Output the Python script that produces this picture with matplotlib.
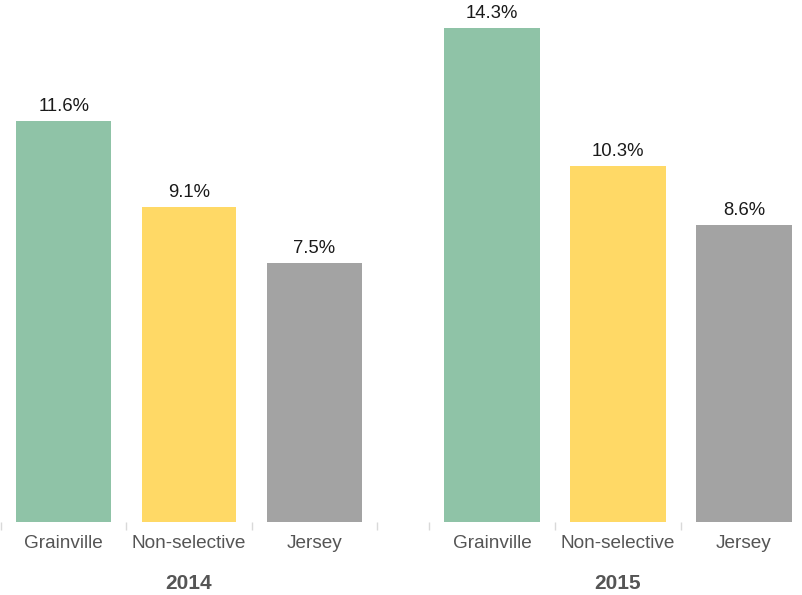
import matplotlib.pyplot as plt

plt.rcParams['font.family'] = ['Liberation Sans', 'DejaVu Sans']

categories = ['Grainville', 'Non-selective', 'Jersey']
years = ['2014', '2015']
values_2014 = [11.6, 9.1, 7.5]
values_2015 = [14.3, 10.3, 8.6]
colors = ['#8fc3a7', '#ffd966', '#a3a3a3']

W, H = 803, 595
fig = plt.figure(figsize=(W / 100, H / 100), dpi=100)

# panel boxes in pixels: left, right
panels = [(1, 377), (429, 807)]
bottom_px = 522

for (x0, x1), year, vals in zip(panels, years, [values_2014, values_2015]):
    ax = fig.add_axes([x0 / W, (H - bottom_px) / H, (x1 - x0) / W, bottom_px / H])
    xs = range(len(categories))
    bars = ax.bar(xs, vals, width=0.755, color=colors)
    for b, v in zip(bars, vals):
        ax.annotate(f'{v}%', (b.get_x() + b.get_width() / 2, v),
                    xytext=(0, 6), textcoords='offset pixels',
                    ha='center', va='bottom', fontsize=13.3, color='#1a1a1a')
    ax.set_xlim(-0.5, 2.5)
    ax.set_ylim(0, 15.1)
    ax.set_yticks([])
    for s in ax.spines.values():
        s.set_visible(False)
    ax.set_xticks(list(xs))
    ax.set_xticklabels(categories, fontsize=13.7, color='#555555')
    ax.tick_params(axis='x', which='major', length=0, pad=9)
    ax.set_xticks([-0.5, 0.5, 1.5, 2.5], minor=True)
    ax.tick_params(axis='x', which='minor', length=6, width=1, color='#d9d9d9')
    ax.set_xlabel(year, fontsize=15, fontweight='bold', color='#555555', labelpad=16)

fig.savefig('out.png', dpi=100)
